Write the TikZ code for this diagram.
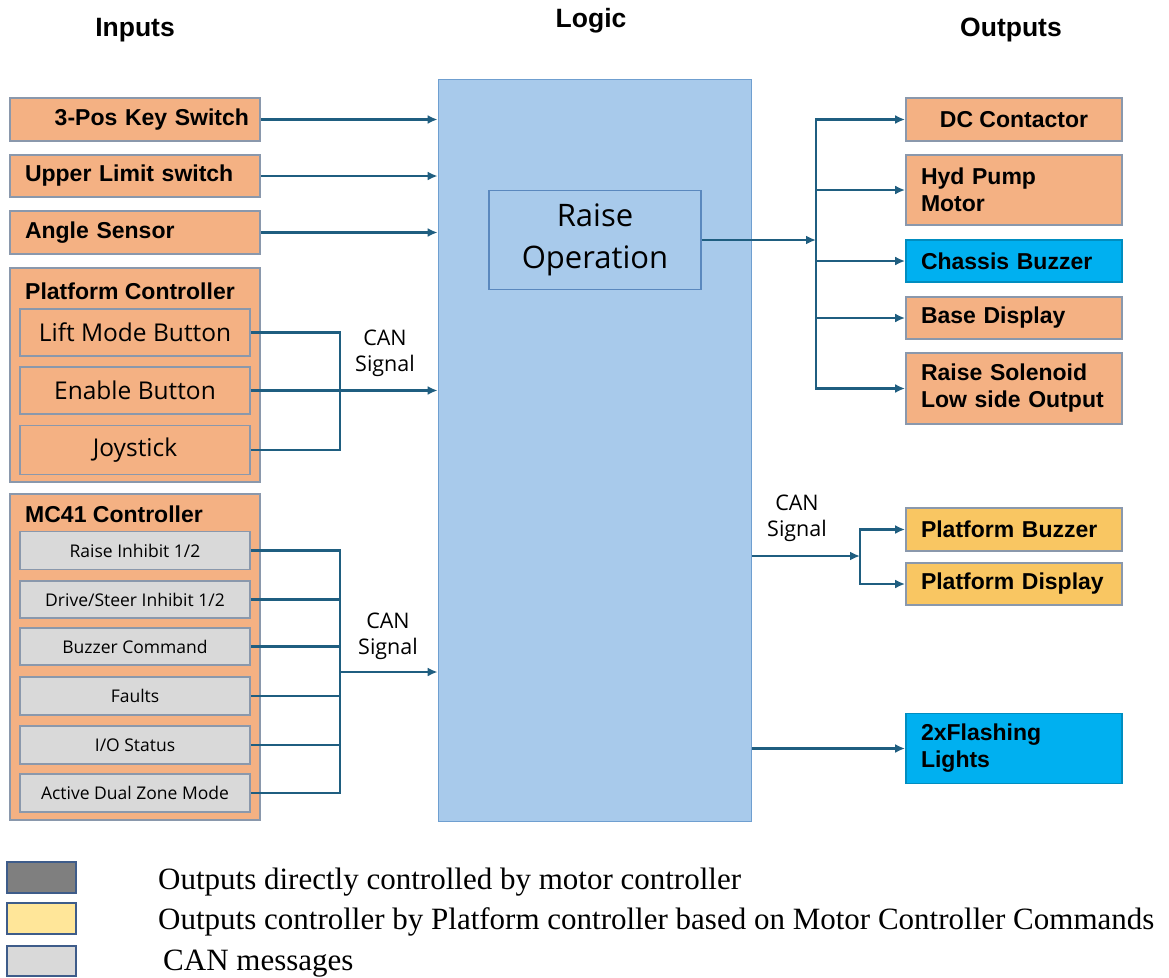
\documentclass[tikz,border=0pt]{standalone}
\usepackage{fontspec}
\usetikzlibrary{arrows.meta}
\newfontfamily\arialf{Liberation Sans}
\newfontfamily\aptf{Open Sans}
\newfontfamily\timesf{Liberation Serif}
\definecolor{salmon}{HTML}{F4B183}
\definecolor{salmonedge}{HTML}{8A98AC}
\definecolor{cangray}{HTML}{D9D9D9}
\definecolor{logicblue}{HTML}{A8CAEB}
\definecolor{logicedge}{HTML}{6F9FD0}
\definecolor{opedge}{HTML}{5A88BE}
\definecolor{wire}{HTML}{1F5E80}
\definecolor{cyanbox}{HTML}{00B0F0}
\definecolor{goldbox}{HTML}{F9C662}
\definecolor{legdark}{HTML}{7F7F7F}
\definecolor{legyellow}{HTML}{FFE699}
\definecolor{legedge}{HTML}{3E5C8A}
\tikzset{
  blk/.style={draw=salmonedge, line width=1.8pt, fill=salmon, inner sep=0pt,
    font=\arialf\bfseries\fontsize{23}{27}\selectfont},
  leftblk/.style={blk, align=left, text width=#1},
  sub/.style={draw=salmonedge, line width=1.6pt, fill=salmon, inner sep=0pt,
    font=\aptf\fontsize{24.5}{28}\selectfont},
  canmsg/.style={draw=salmonedge, line width=1.6pt, fill=cangray, inner sep=0pt,
    font=\aptf\fontsize{17.5}{20}\selectfont},
  heading/.style={font=\arialf\bfseries\fontsize{26.5}{30}\selectfont},
  canlbl/.style={align=center, font=\aptf\fontsize{21.5}{26}\selectfont},
  wireln/.style={draw=wire, line width=2.4pt},
  arr/.style={wireln, -{Latex[length=10pt,width=9pt]}},
  legbox/.style={draw=legedge, line width=1.6pt},
  legtxt/.style={anchor=west, inner sep=0pt, font=\timesf\fontsize{31}{34}\selectfont},
}
\begin{document}
\begin{tikzpicture}[x=1pt,y=-1pt]
\useasboundingbox (0,0) rectangle (1169,977);

% column headings
\node[heading] (hin) at (135,30) {Inputs};
\node[heading] (hlog) at (591,21) {Logic};
\node[heading] (hout) at (1011,30) {Outputs};

% central logic block
\node[draw=logicedge, line width=1.8pt, fill=logicblue, minimum width=313pt,
      minimum height=742pt, inner sep=0pt] (logic) at (595,450.5) {};
\node[draw=opedge, line width=1.8pt, fill=logicblue, minimum width=212pt,
      minimum height=99pt, inner sep=0pt, align=center,
      font=\aptf\fontsize{31}{42}\selectfont] (raise) at (595,240) {Raise\\Operation};

% single inputs
\node[blk, minimum width=250pt, minimum height=43pt, align=right, text width=228pt] (key) at (135,119.5) {3-Pos Key Switch};
\node[leftblk=220pt, minimum width=250pt, minimum height=42pt] (upper) at (135,176) {Upper Limit switch};
\node[leftblk=220pt, minimum width=250pt, minimum height=43pt] (angle) at (135,232.5) {Angle Sensor};

% platform controller group
\node[blk, minimum width=250pt, minimum height=214pt] (plat) at (135,375) {};
\node[anchor=west, inner sep=0pt, font=\arialf\bfseries\fontsize{23}{27}\selectfont] (plattitle) at (25,291) {Platform Controller};
\node[sub, minimum width=230pt, minimum height=47pt] (lift) at (135,332.5) {Lift Mode Button};
\node[sub, minimum width=230pt, minimum height=47pt] (enable) at (135,390.5) {Enable Button};
\node[sub, minimum width=230pt, minimum height=49pt] (joy) at (135,450) {Joystick};

% MC41 controller group
\node[blk, minimum width=250pt, minimum height=326pt] (mc) at (135,657) {};
\node[anchor=west, inner sep=0pt, font=\arialf\bfseries\fontsize{23}{27}\selectfont] (mctitle) at (25,514) {MC41 Controller};
\node[canmsg, minimum width=230pt, minimum height=38pt] (m1) at (135,550.5) {Raise Inhibit 1/2};
\node[canmsg, minimum width=230pt, minimum height=37pt] (m2) at (135,599.5) {Drive/Steer Inhibit 1/2};
\node[canmsg, minimum width=230pt, minimum height=37pt] (m3) at (135,646.5) {Buzzer Command};
\node[canmsg, minimum width=230pt, minimum height=38pt] (m4) at (135,696) {Faults};
\node[canmsg, minimum width=230pt, minimum height=38pt] (m5) at (135,745) {I/O Status};
\node[canmsg, minimum width=230pt, minimum height=38pt] (m6) at (135,793) {Active Dual Zone Mode};

% outputs
\node[blk, minimum width=216pt, minimum height=43pt] (dc) at (1014,119.5) {DC Contactor};
\node[leftblk=186pt, minimum width=216pt, minimum height=70pt] (hyd) at (1014,190) {Hyd Pump\\Motor};
\node[leftblk=186pt, minimum width=216pt, minimum height=42pt, fill=cyanbox, draw=cyanbox!80!black] (chassis) at (1014,261) {Chassis Buzzer};
\node[leftblk=186pt, minimum width=216pt, minimum height=42pt] (base) at (1014,318) {Base Display};
\node[leftblk=186pt, minimum width=216pt, minimum height=71pt] (sol) at (1014,388.5) {Raise Solenoid\\Low side Output};
\node[leftblk=186pt, minimum width=216pt, minimum height=43pt, fill=goldbox] (pbuzz) at (1014,529.5) {Platform Buzzer};
\node[leftblk=186pt, minimum width=216pt, minimum height=42pt, fill=goldbox] (pdisp) at (1014,584) {Platform Display};
\node[leftblk=186pt, minimum width=216pt, minimum height=70pt, fill=cyanbox, draw=cyanbox!80!black] (flash) at (1014,748.5) {2xFlashing\\Lights};

% bus junction points
\coordinate (pbus) at (340,390.5);
\coordinate (mbus) at (340,672);
\coordinate (obus) at (816,240);
\coordinate (cbus) at (860,556);
\coordinate (cstart) at (752,556);

% CAN labels
\node[canlbl] (can1) at (385,353) {CAN\\Signal};
\node[canlbl] (can2) at (388,636) {CAN\\Signal};
\node[canlbl] (can3) at (797,518) {CAN\\Signal};

% discrete inputs into logic
\draw[arr] (key.east) -- (key.east -| logic.west);
\draw[arr] (upper.east) -- (upper.east -| logic.west);
\draw[arr] (angle.east) -- (angle.east -| logic.west);

% platform controller bus
\draw[wireln] (lift.east) -| (pbus);
\draw[wireln] (joy.east) -| (pbus);
\draw[arr] (enable.east) -- (enable.east -| logic.west);

% MC41 bus
\draw[wireln] (m1.east) -| (mbus);
\draw[wireln] (m6.east) -| (mbus);
\foreach \m in {m2,m3,m4,m5} \draw[wireln] (\m.east) -- (\m.east -| mbus);
\draw[arr] (mbus) -- (mbus -| logic.west);

% raise operation to outputs
\draw[arr] (raise.east |- obus) -- (obus);
\draw[wireln, line cap=rect] (dc.west -| obus) -- (sol.west -| obus);
\foreach \o in {dc,hyd,chassis,base,sol} \draw[arr] (\o.west -| obus) -- (\o.west);

% CAN outputs
\draw[arr] (cstart) -- (cbus);
\draw[wireln, line cap=rect] (pbuzz.west -| cbus) -- (pdisp.west -| cbus);
\draw[arr] (pbuzz.west -| cbus) -- (pbuzz.west);
\draw[arr] (pdisp.west -| cbus) -- (pdisp.west);
\draw[arr] (flash.west -| logic.east) -- (flash.west);

% legend
\draw[legbox, fill=legdark] (7,862) rectangle (76,893);
\draw[legbox, fill=legyellow] (7,903) rectangle (76,934);
\draw[legbox, fill=cangray] (7,946) rectangle (76,976);
\node[legtxt] (l1) at (158,882) {Outputs directly controlled by motor controller};
\node[legtxt] (l2) at (158,922) {Outputs controller by Platform controller based on Motor Controller Commands};
\node[legtxt] (l3) at (163,964) {CAN messages};
\end{tikzpicture}
\end{document}
